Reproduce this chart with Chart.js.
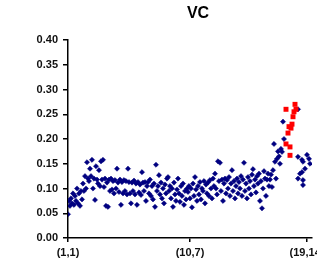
<!DOCTYPE html>
<html>
<head>
<meta charset="utf-8">
<script src="https://cdn.jsdelivr.net/npm/chart.js@4"></script>
<style>
  html, body { margin: 0; padding: 0; background: #fff; }
  #wrap { width: 317px; height: 260px; }
</style>
</head>
<body>
<div id="wrap"><canvas id="vc" width="317" height="260"></canvas></div>
<script>
// main run of blue points, one per x step starting at x = 0
const navyY = [
  0.048, 0.075, 0.065, 0.08, 0.07, 0.09, 0.067, 0.085, 0.075, 0.10,
  0.07, 0.09, 0.065, 0.095, 0.078, 0.11, 0.095, 0.125, 0.10, 0.153,
  0.12, 0.115, 0.14, 0.125, 0.158, 0.10, 0.12, 0.077, 0.145, 0.118,
  0.11, 0.137, 0.105, 0.155, 0.118, 0.158, 0.103, 0.12, 0.065, 0.112,
  0.063, 0.118, 0.095, 0.12, 0.098, 0.115, 0.09, 0.117, 0.10, 0.14,
  0.112, 0.093, 0.118, 0.067, 0.113, 0.09, 0.117, 0.095, 0.115, 0.088,
  0.14, 0.113, 0.09, 0.07, 0.112, 0.095, 0.116, 0.088, 0.11, 0.067,
  0.113, 0.092, 0.108, 0.087, 0.133, 0.112, 0.095, 0.113, 0.075, 0.105,
  0.113, 0.09, 0.118, 0.085, 0.105, 0.078, 0.11, 0.063, 0.148, 0.095,
  0.105, 0.127, 0.088, 0.112, 0.08, 0.1, 0.07, 0.108, 0.09, 0.12,
  0.123, 0.095, 0.105, 0.08, 0.1, 0.063, 0.112, 0.088, 0.075, 0.098,
  0.12, 0.09, 0.073, 0.105, 0.085, 0.11, 0.067, 0.095, 0.078, 0.1,
  0.093, 0.105, 0.08, 0.1, 0.062, 0.11, 0.085, 0.123, 0.098, 0.075,
  0.105, 0.088, 0.113, 0.078, 0.1, 0.095, 0.115, 0.07, 0.108, 0.09,
  0.112, 0.085, 0.117, 0.1, 0.08, 0.12, 0.105, 0.13, 0.1, 0.088,
  0.155, 0.115, 0.152, 0.095, 0.118, 0.075, 0.11, 0.12, 0.09, 0.117,
  0.1, 0.123, 0.085, 0.11, 0.137, 0.095, 0.115, 0.08, 0.105, 0.12,
  0.09, 0.113, 0.1, 0.125, 0.085, 0.118, 0.152, 0.095, 0.11, 0.08,
  0.123, 0.1, 0.115, 0.088, 0.128, 0.139, 0.105, 0.118, 0.092, 0.125,
  0.11, 0.13, 0.075, 0.115, 0.06, 0.1, 0.135, 0.12, 0.085, 0.118,
  0.13, 0.105, 0.118, 0.128, 0.103, 0.137, 0.19, 0.154, 0.12, 0.16,
  0.175, 0.165, 0.15, 0.18, 0.174, 0.235, 0.2
];

// blue points at the right end
const tailX = [230, 230, 230, 232, 234, 234, 235, 235, 235, 237, 239, 241, 242];
const tailY = [0.26, 0.164, 0.12, 0.13, 0.133, 0.158, 0.154, 0.117, 0.107, 0.14, 0.168, 0.16, 0.15];

// red points
const redX = [218, 227, 228, 225, 223, 220, 218, 222, 222, 221, 224, 226];
const redY = [0.26, 0.27, 0.26, 0.245, 0.222, 0.212, 0.19, 0.184, 0.167, 0.225, 0.23, 0.255];

const xTickPos = [0, 122, 239];
const xTickLabels = ['(1,1)', '(10,7)', '(19,14)'];
const chartTitle = 'VC';

const navyPts = navyY.map((y, i) => ({ x: i, y: y }))
  .concat(tailX.map((x, i) => ({ x: x, y: tailY[i] })));
const redPts = redX.map((x, i) => ({ x: x, y: redY[i] }));

const tickFont = { family: 'Arial, "Liberation Sans", sans-serif', size: 11, weight: 'bold' };

const titlePlugin = {
  id: 'sideTitle',
  afterDraw(chart) {
    const ctx = chart.ctx;
    ctx.save();
    ctx.font = 'bold 16px Arial, "Liberation Sans", sans-serif';
    ctx.fillStyle = '#000';
    ctx.textAlign = 'center';
    ctx.textBaseline = 'middle';
    ctx.fillText(chartTitle, 198, 14);
    ctx.restore();
  }
};

new Chart(document.getElementById('vc').getContext('2d'), {
  type: 'scatter',
  data: {
    datasets: [
      {
        label: 'red',
        data: redPts,
        order: 0,
        pointStyle: 'rect',
        pointRadius: 3.5,
        backgroundColor: '#ff0000',
        borderColor: '#ff0000',
        borderWidth: 0
      },
      {
        label: 'navy',
        data: navyPts,
        order: 1,
        pointStyle: 'rectRot',
        pointRadius: 2.6,
        backgroundColor: '#000080',
        borderColor: '#000080',
        borderWidth: 0.5
      }
    ]
  },
  options: {
    responsive: false,
    animation: false,
    devicePixelRatio: 1,
    layout: { padding: { top: 40, right: 5, left: 0, bottom: 0 } },
    plugins: {
      legend: { display: false },
      tooltip: { enabled: false },
      title: { display: false }
    },
    scales: {
      x: {
        type: 'linear',
        min: 0,
        max: 244,
        afterBuildTicks(scale) {
          scale.ticks = xTickPos.map(v => ({ value: v }));
        },
        afterFit(scale) {
          scale.paddingLeft = 0;
          scale.paddingRight = 0;
          scale.height = 22;
        },
        ticks: {
          autoSkip: false,
          maxRotation: 0,
          padding: 4,
          color: '#111',
          font: tickFont,
          callback: function(value) {
            const k = xTickPos.indexOf(value);
            return k >= 0 ? xTickLabels[k] : '';
          }
        },
        grid: { display: true, drawOnChartArea: false, drawTicks: true, tickLength: 4, color: '#000', lineWidth: 1.5 },
        border: { display: true, color: '#000', width: 1.5 }
      },
      y: {
        min: 0,
        max: 0.4,
        afterFit(scale) {
          scale.width = 68;
        },
        ticks: {
          stepSize: 0.05,
          autoSkip: false,
          padding: 5,
          color: '#111',
          font: tickFont,
          callback: v => v.toFixed(2)
        },
        grid: { display: true, drawOnChartArea: false, drawTicks: true, tickLength: 5, color: '#000', lineWidth: 1.5 },
        border: { display: true, color: '#000', width: 1.5 }
      }
    }
  },
  plugins: [titlePlugin]
});
</script>
</body>
</html>
